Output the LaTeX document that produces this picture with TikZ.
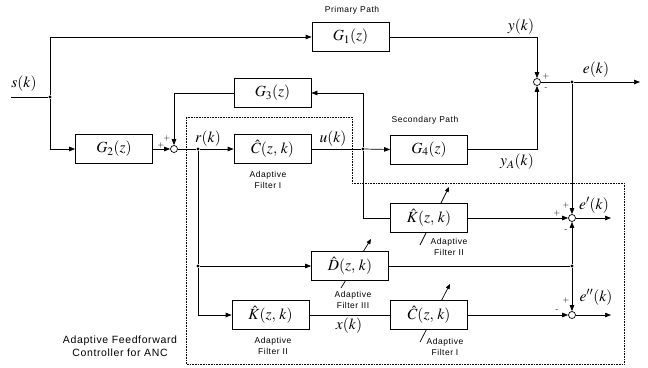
\documentclass[tikz,border=0pt]{standalone}
\usepackage[no-math]{fontspec}
\usepackage{mathptmx}
\newfontfamily\labfont[LetterSpace=6]{Liberation Sans}
\usetikzlibrary{arrows.meta}
\newcommand{\ck}{,\mkern2mu k}
\begin{document}
\begin{tikzpicture}[x=1pt,y=-1pt,
  line width=0.7pt,
  blk/.style={draw, fill=white, minimum width=77pt, minimum height=29pt, inner sep=0pt, font=\fontsize{15.5}{17}\selectfont},
  sumc/.style={draw, circle, fill=white, minimum size=7pt, inner sep=0pt},
  dot/.style={circle, fill, minimum size=3.2pt, inner sep=0pt},
  arr/.style={-{Triangle[length=6pt,width=4.5pt]}},
  adarr/.style={-{Triangle[length=5pt,width=4pt]}},
  sig/.style={font=\fontsize{8}{9}\selectfont, inner sep=0pt},
  sm/.style={font=\labfont\fontsize{8.5}{10.5}\selectfont, align=center, inner sep=0pt},
  big/.style={font=\labfont\fontsize{10.5}{13.5}\selectfont, align=center, inner sep=0pt},
  ml/.style={font=\fontsize{15.5}{17}\selectfont, inner sep=0pt}
]
\useasboundingbox (0,0) rectangle (648,367);
% controller frame
\draw[densely dotted, line width=0.6pt] (186,117) -- (352,117) -- (352,183) -- (624,183) -- (624,364) -- (186,364) -- cycle;
% adaptation arrows (behind the boxes)
\draw[adarr] (420,245) -- (449,187);
\draw[adarr] (341,288) -- (371,239);
\draw[adarr] (420,342) -- (450,284);
% nodes
\coordinate (in) at (11,97);
\node[dot] (j0) at (50,97) {};
\node[blk] (G1) at (350.5,37) {$G_1(z)$};
\node[blk] (G2) at (114,149) {$G_2(z)$};
\node[blk] (G3) at (272.5,93) {$G_3(z)$};
\node[sumc] (s1) at (174,149) {};
\node[dot] (jr) at (198,149) {};
\node[blk] (C1) at (272.5,149) {$\hat{C}(z\ck)$};
\node[dot] (ju) at (363,149) {};
\node[blk] (G4) at (429,149.5) {$G_4(z)$};
\node[sumc] (s2) at (537,82) {};
\node[dot] (je) at (572,82) {};
\coordinate (eo) at (640,82);
\node[blk] (K1) at (429,218) {$\hat{K}(z\ck)$};
\node[sumc] (s3) at (572,218) {};
\coordinate (e1o) at (611,218);
\node[blk] (D) at (350,266) {$\hat{D}(z\ck)$};
\node[dot] (jd) at (572,266) {};
\node[dot] (jr2) at (198,266) {};
\node[blk] (K2) at (270.5,315) {$\hat{K}(z\ck)$};
\node[blk] (C2) at (429,315) {$\hat{C}(z\ck)$};
\node[sumc] (s4) at (572,315) {};
\coordinate (e2o) at (611,315);
% connectors
\draw (in) -- (j0);
\draw[arr] (j0) |- (G1.west);
\draw[arr] (j0) |- (G2.west);
\draw[arr] (G2.east) -- (s1.west);
\draw[arr] (G3.west) -| (s1.north);
\draw (s1.east) -- (jr);
\draw[arr] (jr) -- (C1.west);
\draw (C1.east) -- (ju);
\draw[arr] (ju) -- (G4.west);
\draw[arr] (ju) |- (G3.east);
\draw (ju) |- (K1.west);
\draw[arr] (G1.east) -| (s2.north);
\draw[arr] (G4.east) -| (s2.south);
\draw (s2.east) -- (je);
\draw[arr] (je) -- (eo);
\draw[arr] (je) -- (s3.north);
\draw[arr] (K1.east) -- (s3.west);
\draw[arr] (jd) -- (s3.south);
\draw (D.east) -- (jd);
\draw[arr] (jd) -- (s4.north);
\draw[arr] (C2.east) -- (s4.west);
\draw[arr] (s3.east) -- (e1o);
\draw[arr] (s4.east) -- (e2o);
\draw (jr) -- (jr2);
\draw[arr] (jr2) -- (D.west);
\draw[arr] (jr2) |- (K2.west);
\draw (K2.east) -- (C2.west);
% signal labels
\node[ml] (ls) at (24,84) {$s(k)$};
\node[ml] (ly) at (521,27) {$y(k)$};
\node[ml] (le) at (596,70) {$e(k)$};
\node[ml] (lya) at (517,162) {$y_A(k)$};
\node[ml] (lr) at (208,139) {$r(k)$};
\node[ml] (lu) at (333,139) {$u(k)$};
\node[ml] (le1) at (594,205) {$e'(k)$};
\node[ml] (le2) at (596,297) {$e''(k)$};
\node[ml] (lx) at (349,326) {$x(k)$};
% text labels
\node[sm] (tp) at (352,10) {Primary Path};
\node[sm] (ts) at (425,120) {Secondary Path};
\node[sm] (ta1) at (268,180) {Adaptive\\Filter I};
\node[sm] (ta2) at (449,247) {Adaptive\\Filter II};
\node[sm] (ta3) at (353,300) {Adaptive\\Filter III};
\node[sm] (ta4) at (273,346) {Adaptive\\Filter II};
\node[sm] (ta5) at (445,347) {Adaptive\\Filter I};
\node[big] (tc) at (120,346) {Adaptive Feedforward\\Controller for ANC};
% signs
\node[sig] at (161,145) {+};
\node[sig] at (167,138) {+};
\node[sig] at (546,76) {+};
\node[sig] at (546,89) {-};
\node[sig] at (566,205) {+};
\node[sig] at (557,213) {+};
\node[sig] at (566,231) {-};
\node[sig] at (566,300) {+};
\node[sig] at (557,311) {-};
\end{tikzpicture}
\end{document}
